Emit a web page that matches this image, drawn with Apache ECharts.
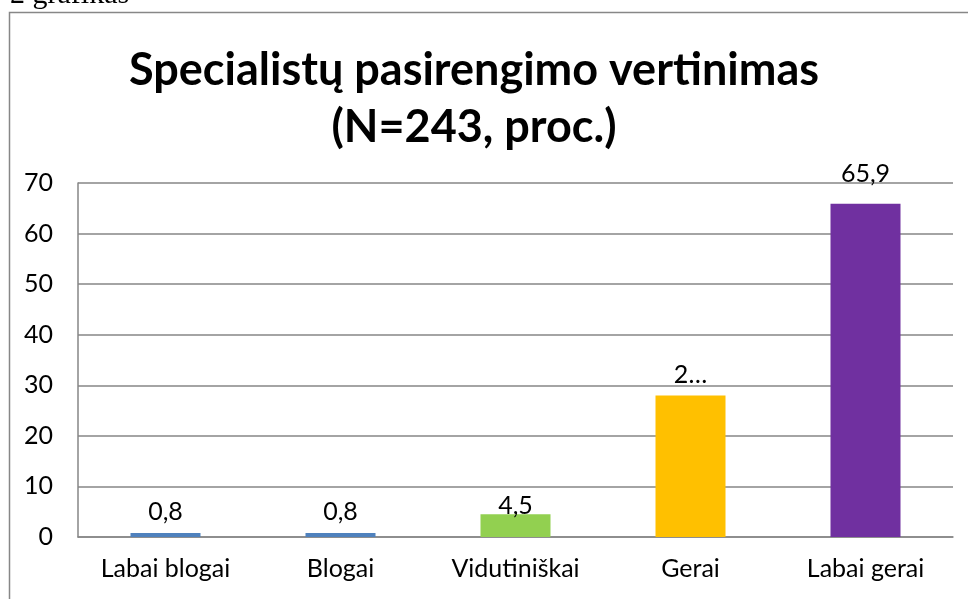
<!DOCTYPE html>
<html>
<head>
<meta charset="utf-8">
<script src="https://cdn.jsdelivr.net/npm/echarts@6/dist/echarts.min.js"></script>
<style>
html,body{margin:0;padding:0;background:#fff;}
#chart{width:968px;height:599px;}
</style>
</head>
<body>
<div id="chart"></div>
<script>
const categories = ['Labai blogai', 'Blogai', 'Vidutiniškai', 'Gerai', 'Labai gerai'];
const values = [0.8, 0.8, 4.5, 28.0, 65.9];
const shownLabels = ['0,8', '0,8', '4,5', '2…', '65,9'];
const barColors = ['#4F81BD', '#4F81BD', '#92D050', '#FFC000', '#7030A0'];
const labelDistances = [9, 9, -4, 8, 17];
const yTicks = {min: 0, max: 70, interval: 10};

const chart = echarts.init(document.getElementById('chart'), null, {renderer: 'canvas'});
const font = 'Lato';
chart.setOption({
  animation: false,
  backgroundColor: '#ffffff',
  title: {
    text: 'Specialistų pasirengimo vertinimas\n(N=243, proc.)',
    left: 469,
    top: 37,
    textAlign: 'center',
    textStyle: {fontFamily: font, fontWeight: 'bold', fontSize: 45, lineHeight: 57, color: '#000'}
  },
  graphic: [
    {type: 'rect', shape: {x: 9.5, y: 12.5, width: 970, height: 600}, style: {fill: 'none', stroke: '#878787', lineWidth: 1.5}, z: -1},
    {type: 'text', left: 10, top: -20, style: {text: '2 grafikas', font: '30px "Liberation Serif"', fill: '#000'}}
  ],
  grid: {left: 78, right: 15, top: 183, bottom: 62, containLabel: false},
  xAxis: {
    type: 'category',
    data: categories,
    axisLine: {show: true, lineStyle: {color: '#868686', width: 1.5}},
    axisTick: {show: false},
    axisLabel: {fontFamily: font, fontSize: 25, color: '#000', margin: 19}
  },
  yAxis: {
    type: 'value',
    min: yTicks.min, max: yTicks.max, interval: yTicks.interval,
    axisLine: {show: true, lineStyle: {color: '#868686', width: 1.5}},
    axisTick: {show: false},
    splitLine: {lineStyle: {color: '#868686', width: 1.5}},
    axisLabel: {fontFamily: font, fontSize: 25, color: '#000', margin: 25}
  },
  series: [{
    type: 'bar',
    barWidth: '40%',
    data: values.map((v, i) => ({
      value: v,
      itemStyle: {color: barColors[i]},
      label: {distance: labelDistances[i]}
    })),
    label: {
      show: true,
      position: 'top',
      fontFamily: font,
      fontSize: 25,
      color: '#000',
      formatter: p => shownLabels[p.dataIndex]
    }
  }]
});
</script>
</body>
</html>
